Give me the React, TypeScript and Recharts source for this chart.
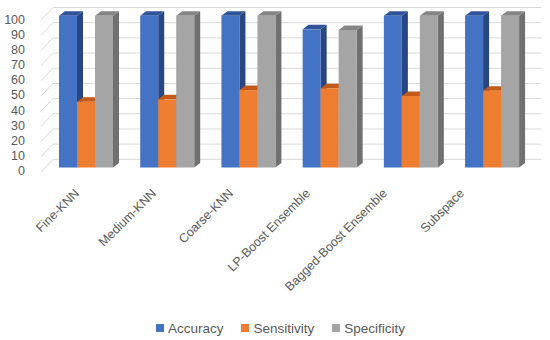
import React from 'react';
import { BarChart, Bar, XAxis, YAxis, CartesianGrid, Legend } from 'recharts';

const categories = ['Fine-KNN', 'Medium-KNN', 'Coarse-KNN', 'LP-Boost Ensemble', 'Bagged-Boost Ensemble', 'Subspace'];
const accuracy = [100, 100, 100, 91, 100, 100];
const sensitivity = [43.3, 44.9, 51, 52.2, 47.1, 50.6];
const specificity = [100, 100, 100, 90.6, 100, 100];
const yTicks = [0, 10, 20, 30, 40, 50, 60, 70, 80, 90, 100];

const SERIES = [
  { key: 'Accuracy', front: '#4472C4', top: '#30549A', side: '#284680' },
  { key: 'Sensitivity', front: '#ED7D31', top: '#C45A1A', side: '#AE521B' },
  { key: 'Specificity', front: '#A5A5A5', top: '#858585', side: '#707070' },
];

const data = categories.map((name, i) => ({
  name,
  Accuracy: accuracy[i],
  Sensitivity: sensitivity[i],
  Specificity: specificity[i],
}));

const FONT = '"Liberation Sans", Arial, sans-serif';
const TEXT = '#595959';
// bar depth (3d look)
const DX = 6;
const DY = 4.5;

const make3DBar = (s: typeof SERIES[number]) => (props: any) => {
  const { x, y, width, height } = props;
  if (x == null || width == null || height == null) return null;
  return (
    <g>
      <path
        d={`M${x + width},${y} L${x + width + DX},${y - DY} L${x + width + DX},${y + height - DY} L${x + width},${y + height} Z`}
        fill={s.side}
      />
      <path
        d={`M${x},${y} L${x + DX},${y - DY} L${x + width + DX},${y - DY} L${x + width},${y} Z`}
        fill={s.top}
      />
      <rect x={x} y={y} width={width} height={height} fill={s.front} />
    </g>
  );
};

// gridline: short diagonal on the side wall, then across the back wall
const gridLine = (p: any) => {
  const { x1, x2, y1, index } = p;
  const d = `M${x1 - 4},${y1 + 4.5} L${x1 + 8},${y1 - 8.2} L${x2 + 9},${y1 - 8.2}`;
  return <path key={`g-${index}-${y1}`} d={d} stroke="#D9D9D9" strokeWidth={1} fill="none" />;
};

const YTick = ({ x, y, payload }: any) => (
  <text x={x} y={y + 3.5} dy="0.35em" textAnchor="end" fill={TEXT} fontSize={12.5} fontFamily={FONT}>
    {payload.value}
  </text>
);

const XTick = ({ x, payload }: any) => {
  // labels sit a little closer together than the bars (perspective)
  const lx = 80 + (x - 85.7) * 0.948;
  const ly = 194;
  return (
    <text
      x={lx}
      y={ly}
      textAnchor="end"
      fill={TEXT}
      fontSize={12.5}
      fontFamily={FONT}
      transform={`rotate(-45, ${lx}, ${ly})`}
    >
      {payload.value}
    </text>
  );
};

const LegendContent = () => (
  <div
    style={{
      display: 'flex',
      justifyContent: 'center',
      alignItems: 'center',
      height: 20,
      paddingLeft: 11,
      boxSizing: 'border-box',
      fontFamily: FONT,
      fontSize: 13.5,
      color: TEXT,
    }}
  >
    {SERIES.map((s, i) => (
      <div key={s.key} style={{ display: 'flex', alignItems: 'center', marginLeft: i === 0 ? 0 : 18 }}>
        <span style={{ width: 8, height: 8, background: s.front, display: 'inline-block', marginRight: 4 }} />
        <span>{s.key}</span>
      </div>
    ))}
  </div>
);

export default function App() {
  return (
    <div style={{ width: 550, height: 340, background: '#fff' }}>
      <style>{'body{margin:0}'}</style>
      <BarChart
        width={550}
        height={340}
        data={data}
        margin={{ top: 15.7, right: 17.7, left: 0, bottom: 2 }}
        barGap={0}
        barSize={18}
      >
        <CartesianGrid vertical={false} horizontal={gridLine} />
        <XAxis
          dataKey="name"
          axisLine={false}
          tickLine={false}
          interval={0}
          height={150.5}
          tick={<XTick />}
        />
        <YAxis
          domain={[0, 100]}
          ticks={yTicks}
          interval={0}
          axisLine={false}
          tickLine={false}
          width={45}
          tickMargin={14}
          tick={<YTick />}
        />
        <Legend
          verticalAlign="bottom"
          content={<LegendContent />}
          wrapperStyle={{ left: 0, width: 550, height: 20, bottom: 2 }}
        />
        {SERIES.map((s) => (
          <Bar key={s.key} dataKey={s.key} fill={s.front} shape={make3DBar(s)} isAnimationActive={false} />
        ))}
      </BarChart>
    </div>
  );
}
